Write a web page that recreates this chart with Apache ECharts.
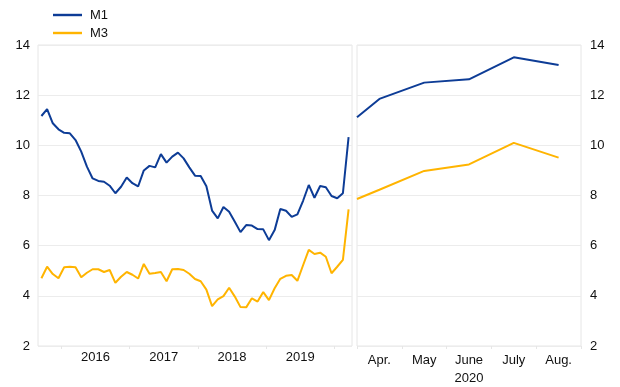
<!DOCTYPE html>
<html><head><meta charset="utf-8">
<script src="https://cdn.jsdelivr.net/npm/echarts@6/dist/echarts.min.js"></script>
<style>html,body{margin:0;padding:0;background:#fff}#c{width:620px;height:387px}</style>
</head><body><div id="c"></div>
<script>
// Left panel: monthly, Sep 2015 .. Mar 2020 (index 0..54)
const m1Monthly = [11.17,11.44,10.88,10.64,10.50,10.48,10.21,9.75,9.15,8.68,8.58,8.55,8.39,8.09,8.35,8.72,8.49,8.36,9.00,9.18,9.12,9.65,9.31,9.55,9.71,9.48,9.12,8.79,8.78,8.37,7.40,7.09,7.54,7.35,6.95,6.54,6.82,6.80,6.66,6.65,6.22,6.62,7.46,7.39,7.15,7.25,7.79,8.42,7.91,8.38,8.33,7.98,7.89,8.09,10.33];
const m3Monthly = [4.70,5.16,4.87,4.70,5.14,5.16,5.14,4.74,4.92,5.06,5.06,4.95,5.03,4.52,4.76,4.95,4.84,4.69,5.27,4.88,4.91,4.95,4.58,5.06,5.07,5.03,4.88,4.67,4.58,4.25,3.59,3.86,3.99,4.32,3.97,3.55,3.54,3.90,3.77,4.15,3.83,4.30,4.68,4.80,4.83,4.60,5.22,5.83,5.67,5.72,5.56,4.90,5.16,5.43,7.45];
const yearLabels = ['2016','2017','2018','2019'];
const yearLabelPos = [9.5,21.5,33.5,45.5];
// Right panel: 2020 (position -0.5 = end of March, 0 = Apr ... 4 = Aug)
const recentPos = [-0.5,0,1,2,3,4];
const m1Recent = [11.12,11.85,12.50,12.63,13.51,13.20];
const m3Recent = [7.86,8.23,8.98,9.24,10.10,9.51];
const monthLabels = ['Apr.','May','June\n2020','July','Aug.'];
const monthLabelPos = [0,1,2,3,4];

const C1 = '#0d3c96', C3 = '#ffb400';
const font = 'Liberation Sans, Arial, Helvetica, sans-serif';
const chart = echarts.init(document.getElementById('c'), null, {renderer:'canvas'});
const gridLine = {show:true, lineStyle:{color:'#ececec', width:1}};
chart.setOption({
  animation:false,
  textStyle:{fontFamily:font},
  legend:{
    orient:'vertical', left:48, top:3, itemWidth:29, itemHeight:2.5, itemGap:4,
    icon:'path://M0,0 L30,0 L30,2.5 L0,2.5 Z',
    textStyle:{fontSize:13, color:'#111', fontFamily:font, lineHeight:14, padding:[0,0,0,3]},
    data:['M1','M3']
  },
  grid:[
    {left:38, top:45, width:314, height:301, show:true, borderColor:'#e6e6e6', borderWidth:1},
    {left:357, top:45, width:224, height:301, show:true, borderColor:'#e6e6e6', borderWidth:1}
  ],
  xAxis:[
    {type:'value', gridIndex:0, min:-0.6, max:54.6,
     axisLine:{show:false}, splitLine:{show:false},
     axisTick:{show:true, customValues:[3.5,15.5,27.5,39.5,51.5], length:3, lineStyle:{color:'#e6e6e6'}},
     axisLabel:{customValues:yearLabelPos, fontSize:13, color:'#111', margin:5,
       formatter:(v)=>yearLabels[yearLabelPos.indexOf(v)]||''}},
    {type:'value', gridIndex:1, min:-0.5, max:4.5,
     axisLine:{show:false}, splitLine:{show:false},
     axisTick:{show:true, customValues:[-0.5,0.5,1.5,2.5,3.5,4.5], length:3, lineStyle:{color:'#e6e6e6'}},
     axisLabel:{customValues:monthLabelPos, fontSize:13, color:'#111', margin:5, lineHeight:18,
       formatter:(v)=>monthLabels[monthLabelPos.indexOf(v)]||''}}
  ],
  yAxis:[
    {type:'value', gridIndex:0, min:2, max:14, interval:2, position:'left',
     axisLine:{show:false}, axisTick:{show:false}, splitLine:gridLine,
     axisLabel:{fontSize:13, color:'#111', margin:8}},
    {type:'value', gridIndex:1, min:2, max:14, interval:2, position:'right',
     axisLine:{show:false}, axisTick:{show:false}, splitLine:gridLine,
     axisLabel:{fontSize:13, color:'#111', margin:9}}
  ],
  series:[
    {name:'M1', type:'line', xAxisIndex:0, yAxisIndex:0, symbol:'none', color:C1,
     lineStyle:{width:2, color:C1}, data:m1Monthly.map((v,i)=>[i,v])},
    {name:'M3', type:'line', xAxisIndex:0, yAxisIndex:0, symbol:'none', color:C3,
     lineStyle:{width:2, color:C3}, data:m3Monthly.map((v,i)=>[i,v])},
    {name:'M1', type:'line', xAxisIndex:1, yAxisIndex:1, symbol:'none', color:C1,
     lineStyle:{width:2, color:C1}, data:m1Recent.map((v,i)=>[recentPos[i],v])},
    {name:'M3', type:'line', xAxisIndex:1, yAxisIndex:1, symbol:'none', color:C3,
     lineStyle:{width:2, color:C3}, data:m3Recent.map((v,i)=>[recentPos[i],v])}
  ]
});
</script></body></html>
